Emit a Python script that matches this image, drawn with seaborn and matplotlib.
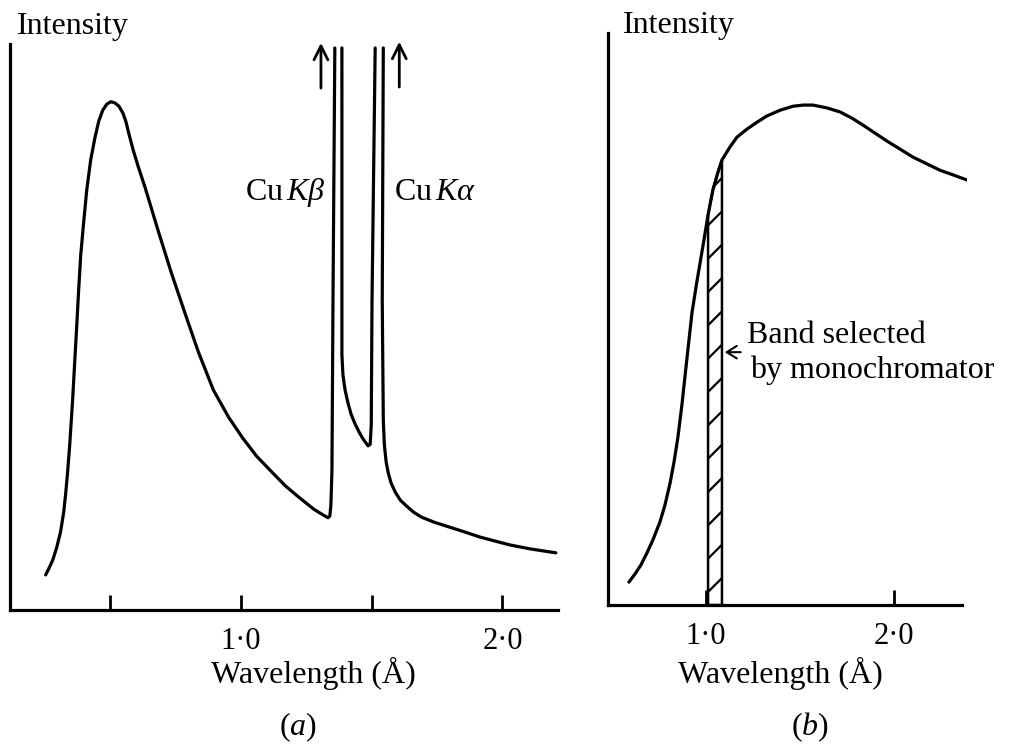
import matplotlib.pyplot as plt
import seaborn as sns

# Panel (a): white radiation from a Cu tube with the K lines (intensity in % of axis height)
cont_wl = [0.256, 0.267, 0.283, 0.298, 0.313, 0.325, 0.332, 0.340, 0.348, 0.359, 0.367, 0.375,
           0.382, 0.390, 0.402, 0.413, 0.428, 0.444, 0.459, 0.474, 0.490, 0.505, 0.520, 0.536,
           0.551, 0.563, 0.574, 0.590, 0.609, 0.636, 0.685, 0.735, 0.789, 0.839, 0.896, 0.954,
           1.008, 1.061, 1.119, 1.172, 1.226, 1.280, 1.315, 1.334, 1.341, 1.345, 1.349, 1.353,
           1.360]
cont_int = [6.2, 7.2, 8.8, 11.0, 13.8, 17.3, 20.3, 24.4, 29.2, 37.1, 43.8, 50.4,
            56.5, 62.7, 68.9, 74.2, 79.5, 83.4, 86.4, 88.3, 89.4, 89.8, 89.6, 89.0,
            87.8, 86.2, 84.1, 81.3, 78.4, 74.6, 67.1, 59.7, 52.3, 45.6, 38.9, 34.1,
            30.4, 27.2, 24.4, 21.9, 19.8, 17.8, 16.8, 16.3, 16.6, 18.6, 24.7, 54.8,
            99.3]
mid_wl = [1.387, 1.387, 1.387, 1.391, 1.399, 1.410, 1.422, 1.437, 1.453, 1.468, 1.479, 1.487,
          1.495, 1.499, 1.502, 1.514]
mid_int = [99.3, 49.5, 45.1, 41.5, 38.9, 36.6, 34.6, 32.9, 31.4, 30.2, 29.5, 29.0,
           29.3, 32.7, 54.8, 99.3]
tail_wl = [1.545, 1.541, 1.545, 1.549, 1.556, 1.564, 1.575, 1.591, 1.610, 1.633, 1.660, 1.691,
           1.740, 1.794, 1.855, 1.913, 1.970, 2.028, 2.105, 2.204]
tail_int = [99.3, 54.8, 33.6, 29.2, 26.1, 24.2, 22.4, 20.8, 19.4, 18.4, 17.3, 16.4,
            15.5, 14.7, 13.8, 12.9, 12.2, 11.5, 10.8, 10.1]
a_ticks = [0.5, 1.0, 1.5, 2.0]
a_labels = ['', '1·0', '', '2·0']

# Panel (b): smooth spectrum and the band passed by the monochromator
b_wl = [0.590, 0.622, 0.654, 0.686, 0.718, 0.755, 0.782, 0.809, 0.830, 0.851, 0.872, 0.899,
        0.926, 0.952, 0.984, 1.011, 1.037, 1.064, 1.085, 1.128, 1.165, 1.218, 1.271, 1.324,
        1.394, 1.463, 1.516, 1.569, 1.644, 1.713, 1.777, 1.835, 1.899, 1.963, 2.032, 2.101,
        2.176, 2.245, 2.314, 2.388]
b_int = [4.0, 5.4, 7.0, 9.1, 11.4, 14.5, 17.5, 21.3, 25.0, 29.4, 35.0, 43.2,
         51.2, 56.6, 62.8, 68.2, 72.6, 75.7, 77.8, 80.1, 81.8, 83.2, 84.4, 85.5,
         86.5, 87.2, 87.4, 87.4, 86.9, 86.2, 85.1, 83.9, 82.5, 81.1, 79.7, 78.3,
         77.1, 76.0, 75.2, 74.3]
band_lo, band_hi = 1.011, 1.085
b_ticks = [1.0, 2.0]
b_labels = ['1·0', '2·0']

sns.set_style('white')
plt.rcParams['font.family'] = ['Liberation Serif', 'DejaVu Serif']
plt.rcParams['mathtext.fontset'] = 'custom'
plt.rcParams['mathtext.rm'] = 'Liberation Serif'
plt.rcParams['mathtext.it'] = 'Liberation Serif:italic'
plt.rcParams['hatch.linewidth'] = 1.6
plt.rcParams['text.color'] = 'black'
plt.rcParams['axes.labelcolor'] = 'black'

fig = plt.figure(figsize=(10.1, 7.47), dpi=100)
ax_a = fig.add_axes([0.0099, 0.1834, 0.5426, 0.7577])
ax_b = fig.add_axes([0.602, 0.1901, 0.3554, 0.7657])

lw = 2.3
for xs, ys in [(cont_wl, cont_int), (mid_wl, mid_int), (tail_wl, tail_int)]:
    sns.lineplot(x=xs, y=ys, sort=False, estimator=None, color='black', lw=lw, ax=ax_a)
sns.lineplot(x=b_wl, y=b_int, sort=False, estimator=None, color='black', lw=lw, ax=ax_b)

# hatched band under the curve
band_x = [w for w in b_wl if band_lo <= w <= band_hi]
band_y = [i for w, i in zip(b_wl, b_int) if band_lo <= w <= band_hi]
ax_b.fill_between(band_x, 0, band_y, facecolor='none', edgecolor='black', hatch='/', lw=1.8)

ax_a.set_xlim(0.12, 2.212)
ax_b.set_xlim(0.479, 2.388)
for ax in (ax_a, ax_b):
    ax.set_ylim(0, 100)
    ax.set_yticks([])
    sns.despine(ax=ax)
    for side in ('left', 'bottom'):
        ax.spines[side].set_linewidth(lw)
        ax.spines[side].set_color('black')
    ax.tick_params(axis='x', direction='in', length=11, width=2, pad=12, labelsize=22,
                   bottom=True, colors='black')
ax_b.spines['bottom'].set_bounds(0.479, 2.362)

ax_a.set_xticks(a_ticks, labels=a_labels)
ax_b.set_xticks(b_ticks, labels=b_labels)

# axis titles
ax_a.set_xlabel('Wavelength (Å)', fontsize=23)
ax_a.xaxis.set_label_coords(0.553, -0.129)
ax_a.xaxis.label.set_va('baseline')
ax_b.set_xlabel('Wavelength (Å)', fontsize=23)
ax_b.xaxis.set_label_coords(0.48, -0.136)
ax_b.xaxis.label.set_va('baseline')
ax_a.text(0.0128, 1.018, 'Intensity', transform=ax_a.transAxes, fontsize=23, va='baseline')
ax_b.text(0.042, 1.0, 'Intensity', transform=ax_b.transAxes, fontsize=23, va='baseline')

# line labels and arrows off the top
ax_a.text(1.326, 72.4, r'Cu$\,K\beta$', fontsize=23, ha='right', va='baseline')
ax_a.text(1.587, 72.4, r'Cu$\,K\alpha$', fontsize=23, ha='left', va='baseline')
arrow = dict(arrowstyle='->, head_length=0.5, head_width=0.25', lw=2, color='black',
             mutation_scale=20, shrinkA=0, shrinkB=0)
ax_a.annotate('', xy=(1.307, 100.2), xytext=(1.307, 92.2), arrowprops=arrow, annotation_clip=False)
ax_a.annotate('', xy=(1.606, 100.4), xytext=(1.606, 92.4), arrowprops=arrow, annotation_clip=False)

ax_b.text(1.218, 45.8, 'Band selected', fontsize=23, va='baseline')
ax_b.text(1.234, 39.7, 'by monochromator', fontsize=23, va='baseline')
ax_b.annotate('', xy=(1.100, 44.2), xytext=(1.185, 44.2),
              arrowprops=dict(arrowstyle='->, head_length=0.4, head_width=0.25', lw=1.5,
                              color='black', mutation_scale=18, shrinkA=0, shrinkB=0))

fig.text(298 / 1010, 1 - 727 / 747, '($a$)', fontsize=23, ha='center', va='center')
fig.text(810 / 1010, 1 - 727 / 747, '($b$)', fontsize=23, ha='center', va='center')

fig.savefig('out.png', dpi=100)
